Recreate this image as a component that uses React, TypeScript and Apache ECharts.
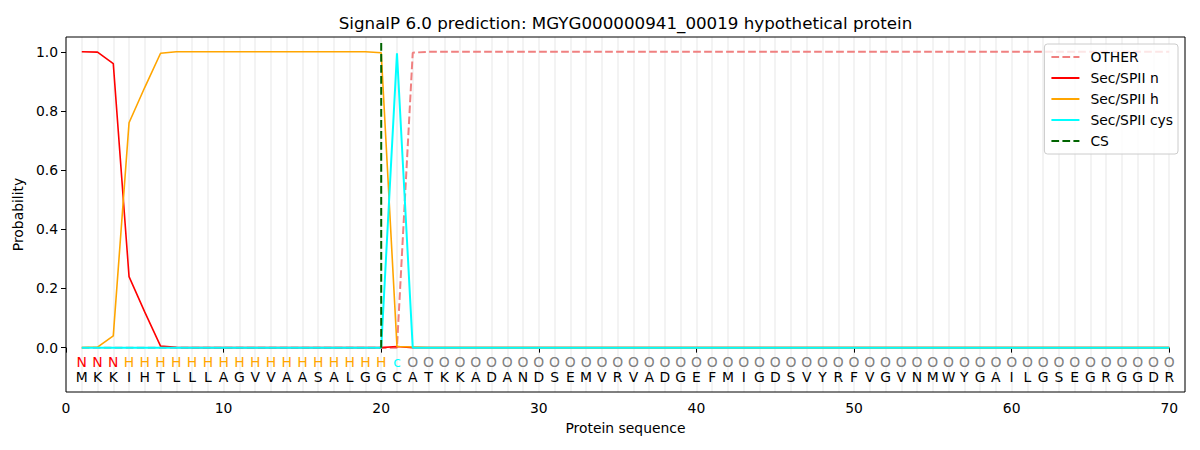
import React, { useEffect, useRef } from "react";
import * as echarts from "echarts";

const positions = [
  1, 2, 3, 4, 5, 6, 7, 8, 9, 10, 11, 12, 13, 14, 15, 16, 17, 18, 19, 20,
  21, 22, 23, 24, 25, 26, 27, 28, 29, 30, 31, 32, 33, 34, 35, 36, 37, 38, 39, 40,
  41, 42, 43, 44, 45, 46, 47, 48, 49, 50, 51, 52, 53, 54, 55, 56, 57, 58, 59, 60,
  61, 62, 63, 64, 65, 66, 67, 68, 69, 70,
];

const sequence = "MKKIHTLLLAGVVAASALGGCATKKADANDSEMVRVADGEFMIGDSVYRFVGVNMWYGAILGSEGRGGDR";
const regionLabels = "NNNHHHHHHHHHHHHHHHHHcOOOOOOOOOOOOOOOOOOOOOOOOOOOOOOOOOOOOOOOOOOOOOOOOO";

const otherVals = [
  0, 0, 0, 0, 0, 0, 0, 0, 0, 0, 0, 0, 0, 0, 0, 0, 0, 0, 0, 0,
  0, 0.997, 1, 1, 1, 1, 1, 1, 1, 1, 1, 1, 1, 1, 1, 1, 1, 1, 1, 1,
  1, 1, 1, 1, 1, 1, 1, 1, 1, 1, 1, 1, 1, 1, 1, 1, 1, 1, 1, 1,
  1, 1, 1, 1, 1, 1, 1, 1, 1, 1,
];
const nVals = [
  1.0, 0.999, 0.96, 0.24, 0.12, 0.005, 0.001, 0, 0, 0, 0, 0, 0, 0, 0, 0, 0, 0, 0, 0,
  0.004, 0, 0, 0, 0, 0, 0, 0, 0, 0, 0, 0, 0, 0, 0, 0, 0, 0, 0, 0,
  0, 0, 0, 0, 0, 0, 0, 0, 0, 0, 0, 0, 0, 0, 0, 0, 0, 0, 0, 0,
  0, 0, 0, 0, 0, 0, 0, 0, 0, 0,
];
const hVals = [
  0, 0.002, 0.04, 0.76, 0.88, 0.995, 1.0, 1.0, 1.0, 1.0, 1.0, 1.0, 1.0, 1.0, 1.0, 1.0, 1.0, 1.0, 1.0, 0.997,
  0.004, 0.002, 0, 0, 0, 0, 0, 0, 0, 0, 0, 0, 0, 0, 0, 0, 0, 0, 0, 0,
  0, 0, 0, 0, 0, 0, 0, 0, 0, 0, 0, 0, 0, 0, 0, 0, 0, 0, 0, 0,
  0, 0, 0, 0, 0, 0, 0, 0, 0, 0,
];
const cysVals = [
  0, 0, 0, 0, 0, 0, 0, 0, 0, 0, 0, 0, 0, 0, 0, 0, 0, 0, 0, 0,
  0.995, 0, 0, 0, 0, 0, 0, 0, 0, 0, 0, 0, 0, 0, 0, 0, 0, 0, 0, 0,
  0, 0, 0, 0, 0, 0, 0, 0, 0, 0, 0, 0, 0, 0, 0, 0, 0, 0, 0, 0,
  0, 0, 0, 0, 0, 0, 0, 0, 0, 0,
];
const csPosition = 20;
const csTop = 1.04;

const xTicks = [0, 10, 20, 30, 40, 50, 60, 70];
const yTicks = [0, 0.2, 0.4, 0.6, 0.8, 1.0];

const labelRowY = -0.048;
const seqRowY = -0.099;

const labelColors: Record<string, string> = {
  N: "#ff0000",
  H: "#ffa500",
  c: "#00ffff",
  O: "#808080",
};

const FONT = "DejaVu Sans";

export default function App() {
  const ref = useRef<HTMLDivElement>(null);

  useEffect(() => {
    if (!ref.current) return;
    const chart = echarts.init(ref.current, null, { renderer: "svg" });

    const pair = (vals: number[]) => positions.map((p, i) => [p, vals[i]]);
    const dash = [7.7, 3.3];

    const textSeries = (row: string, y: number, colorFn: (ch: string) => string) => ({
      type: "custom",
      silent: true,
      clip: false,
      z: 5,
      data: positions.map((p) => [p, y]),
      renderItem: (params: any, api: any) => {
        const pt = api.coord([api.value(0), api.value(1)]);
        const ch = row[params.dataIndex];
        return {
          type: "text",
          x: pt[0],
          y: pt[1],
          style: {
            text: ch,
            fill: colorFn(ch),
            font: `13.9px "${FONT}"`,
            align: "center",
            verticalAlign: "middle",
          },
        };
      },
    });

    const frameSeries = {
      type: "custom",
      silent: true,
      clip: false,
      z: 10,
      data: [[0, 0]],
      renderItem: (params: any) => {
        const cs = params.coordSys;
        return {
          type: "rect",
          shape: { x: cs.x, y: cs.y, width: cs.width, height: cs.height },
          style: { fill: "none", stroke: "#000000", lineWidth: 1 },
        };
      },
    };

    chart.setOption({
      animation: false,
      backgroundColor: "#ffffff",
      textStyle: { fontFamily: FONT },
      graphic: [
        {
          type: "text",
          x: 625.5,
          y: 23,
          style: {
            text: "SignalP 6.0 prediction: MGYG000000941_00019 hypothetical protein",
            fill: "#000000",
            font: `16.7px "${FONT}"`,
            align: "center",
            verticalAlign: "middle",
          },
        },
      ],
      grid: {
        left: 66,
        right: 15,
        top: 37,
        bottom: 58,
        show: false,
      },
      legend: {
        orient: "vertical",
        right: 22,
        top: 44,
        itemWidth: 28,
        itemHeight: 14,
        itemGap: 7,
        padding: [6, 5, 6, 6],
        backgroundColor: "rgba(255,255,255,0.8)",
        borderColor: "#cccccc",
        borderWidth: 1,
        borderRadius: 3,
        itemStyle: { opacity: 0 },
        textStyle: { fontFamily: FONT, fontSize: 13.9, color: "#000000", padding: [0, 0, 0, 6] },
        data: ["OTHER", "Sec/SPII n", "Sec/SPII h", "Sec/SPII cys", "CS"],
      },
      xAxis: [
        {
          type: "value",
          min: 0,
          max: 71,
          name: "Protein sequence",
          nameLocation: "middle",
          nameGap: 29,
          nameTextStyle: { fontFamily: FONT, fontSize: 13.9, color: "#000000" },
          axisLine: { show: false },
          axisTick: { show: true, length: 5, lineStyle: { color: "#000000" }, customValues: xTicks },
          axisLabel: {
            show: true,
            margin: 9,
            fontFamily: FONT,
            fontSize: 13.9,
            color: "#000000",
            customValues: xTicks,
            formatter: (v: number) => String(v),
          },
          splitLine: { show: false },
        },
        {
          type: "value",
          min: 0,
          max: 71,
          interval: 1,
          position: "bottom",
          axisLine: { show: false },
          axisTick: { show: false },
          axisLabel: { show: false },
          splitLine: { show: true, lineStyle: { color: "#f3f3f3", width: 2 } },
        },
      ],
      yAxis: {
        type: "value",
        min: -0.15,
        max: 1.05,
        name: "Probability",
        nameLocation: "middle",
        nameRotate: 90,
        nameGap: 37,
        nameTextStyle: { fontFamily: FONT, fontSize: 13.9, color: "#000000" },
        axisLine: { show: false },
        axisTick: { show: true, length: 5, lineStyle: { color: "#000000" }, customValues: yTicks },
        axisLabel: {
          show: true,
          margin: 8,
          fontFamily: FONT,
          fontSize: 13.9,
          color: "#000000",
          customValues: yTicks,
          formatter: (v: number) => v.toFixed(1),
        },
        splitLine: { show: false },
      },
      series: [
        {
          name: "OTHER",
          type: "line",
          data: pair(otherVals),
          symbol: "none",
          color: "#f08080",
          lineStyle: { color: "#f08080", width: 2, type: dash },
          z: 2,
        },
        {
          name: "Sec/SPII n",
          type: "line",
          data: pair(nVals),
          symbol: "none",
          color: "#ff0000",
          lineStyle: { color: "#ff0000", width: 1.6 },
          z: 2,
        },
        {
          name: "Sec/SPII h",
          type: "line",
          data: pair(hVals),
          symbol: "none",
          color: "#ffa500",
          lineStyle: { color: "#ffa500", width: 1.6 },
          z: 2,
        },
        {
          name: "Sec/SPII cys",
          type: "line",
          data: pair(cysVals),
          symbol: "none",
          color: "#00ffff",
          lineStyle: { color: "#00ffff", width: 2 },
          z: 2,
        },
        {
          name: "CS",
          type: "line",
          data: [
            [csPosition, 0],
            [csPosition, csTop],
          ],
          symbol: "none",
          color: "#006400",
          lineStyle: { color: "#006400", width: 2, type: dash },
          z: 3,
        },
        textSeries(regionLabels, labelRowY, (ch) => labelColors[ch] || "#808080"),
        textSeries(sequence, seqRowY, () => "#000000"),
        frameSeries,
      ],
    });

    return () => chart.dispose();
  }, []);

  return (
    <div
      ref={ref}
      style={{ position: "fixed", left: 0, top: 0, width: 1200, height: 450 }}
    />
  );
}
